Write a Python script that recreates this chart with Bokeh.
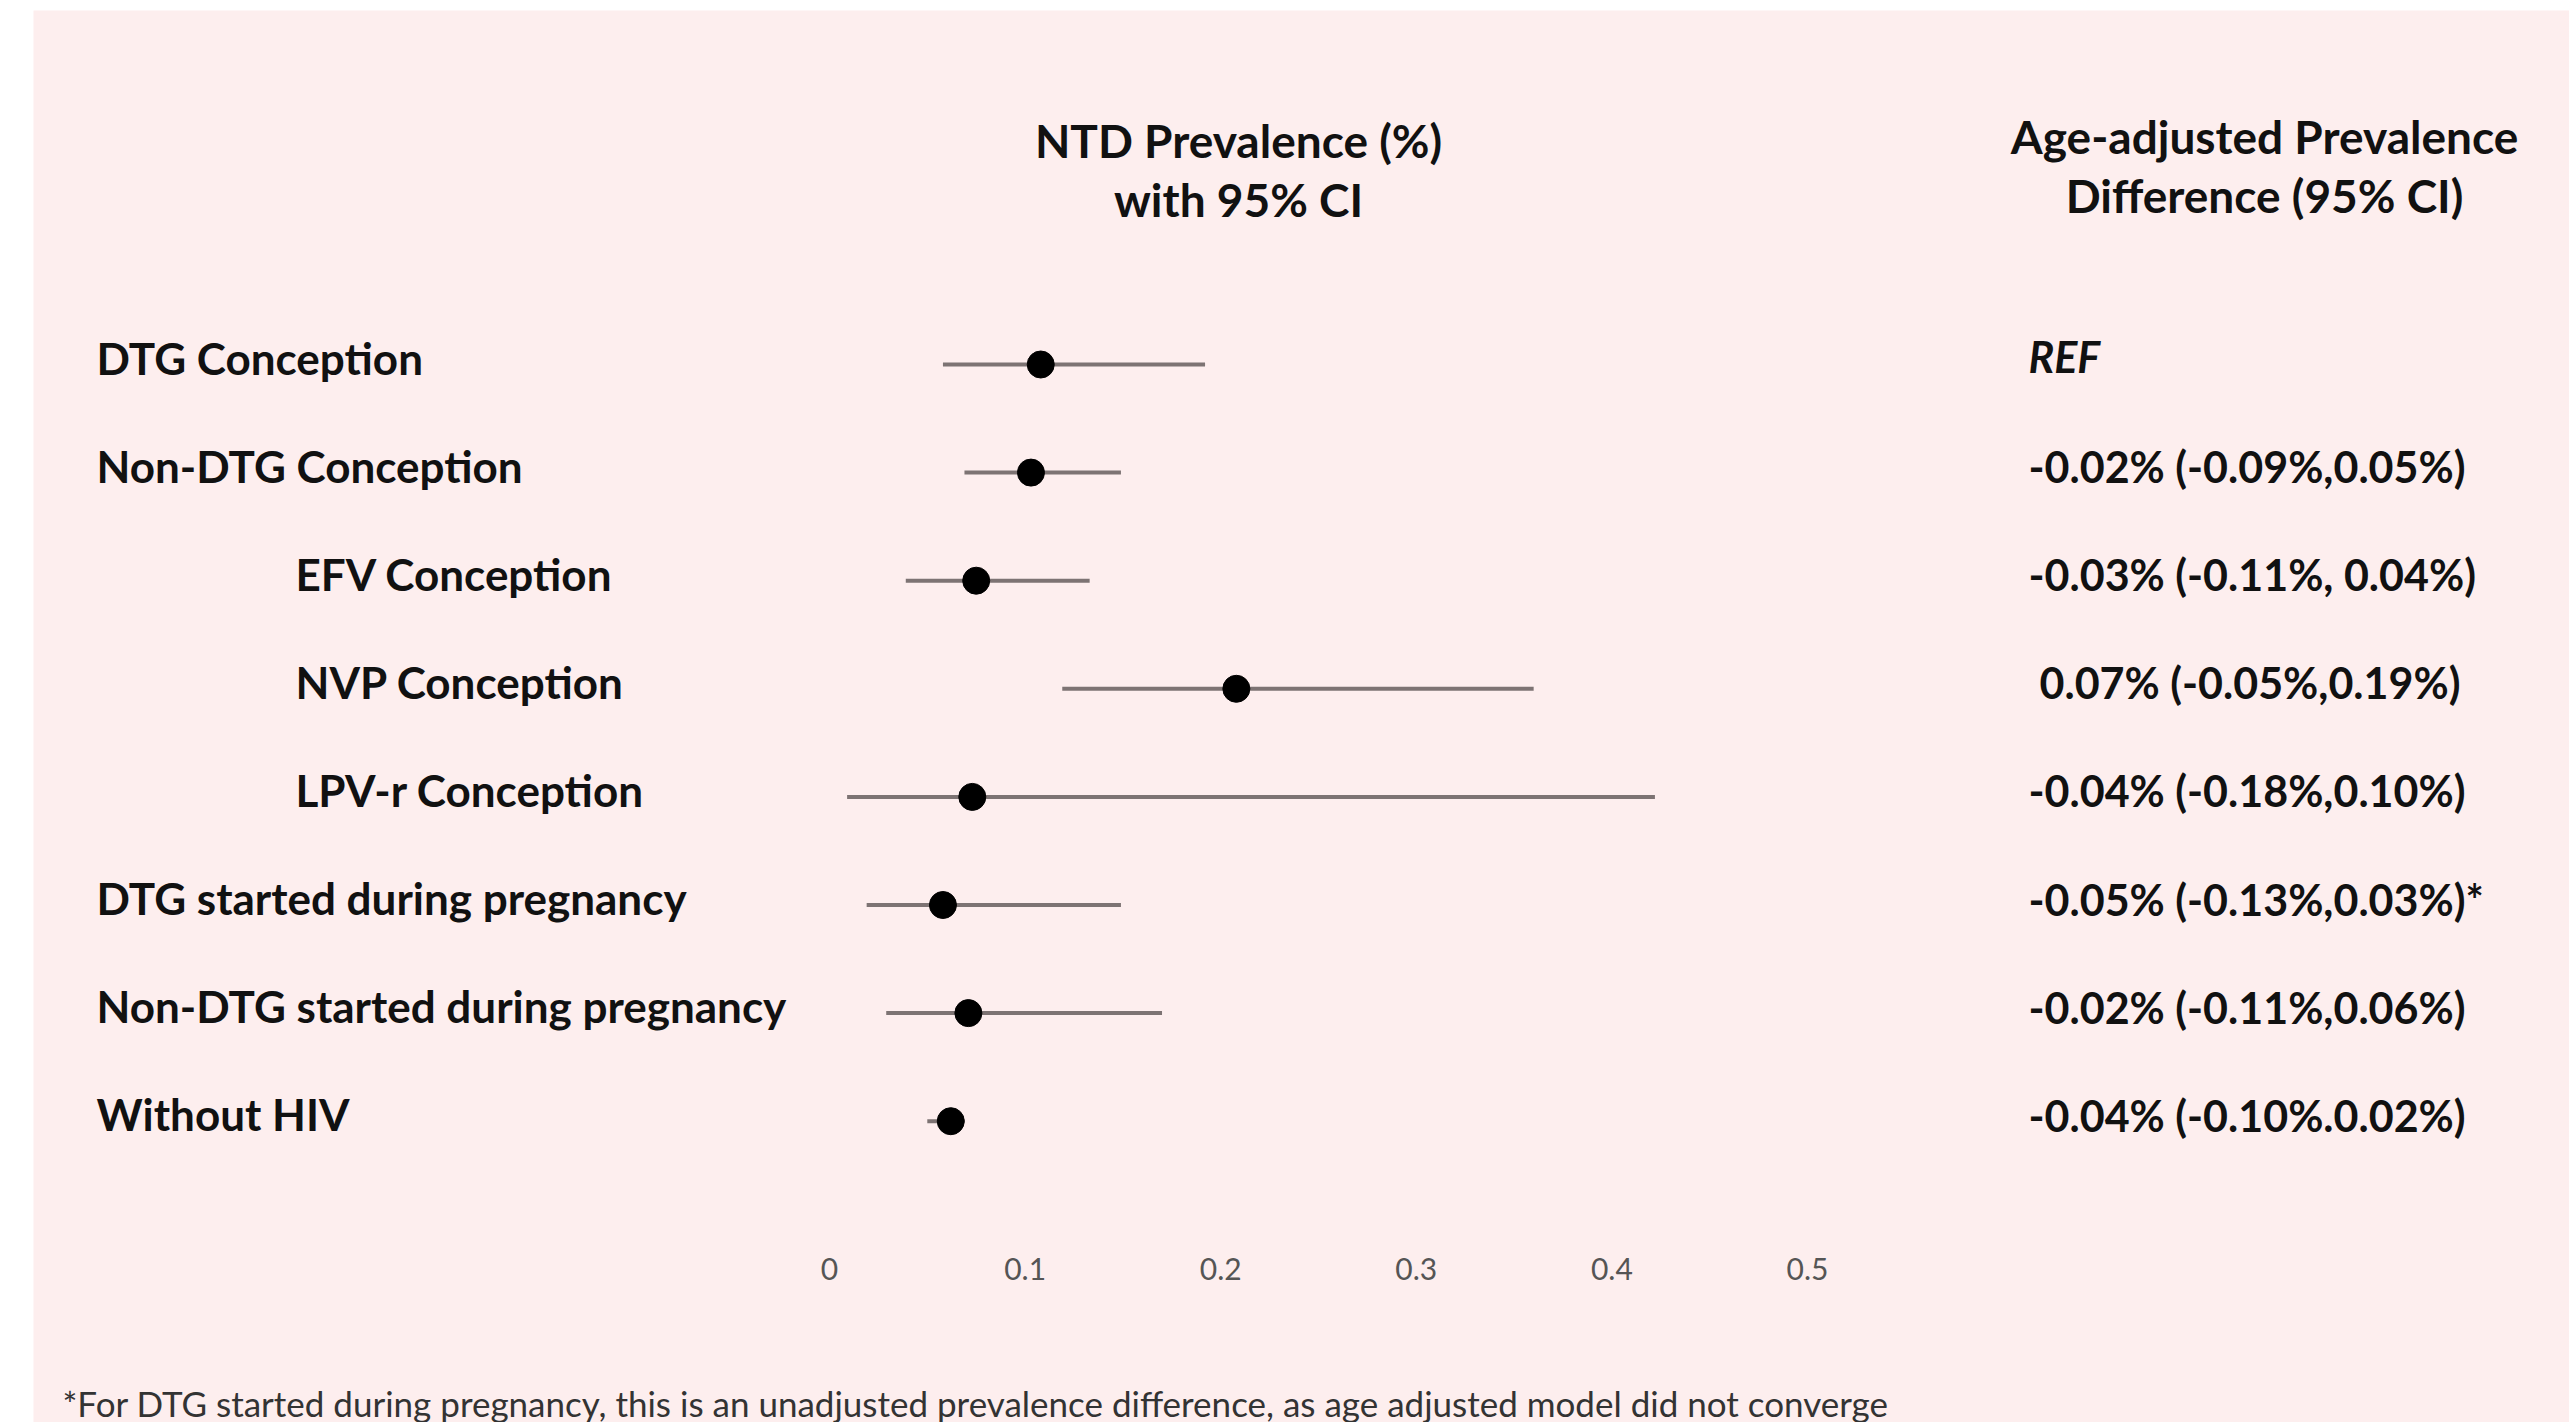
from bokeh.plotting import figure
from bokeh.models import Range1d, BoxAnnotation, ColumnDataSource
from bokeh.core.properties import value
from bokeh.embed import file_html
from bokeh.resources import INLINE

# ---- data ----
row_labels = ["DTG Conception", "Non-DTG Conception", "EFV Conception", "NVP Conception",
              "LPV-r Conception", "DTG started during pregnancy",
              "Non-DTG started during pregnancy", "Without HIV"]
prevalence = [0.108, 0.103, 0.075, 0.208, 0.073, 0.058, 0.071, 0.062]
ci_low = [0.058, 0.069, 0.039, 0.119, 0.009, 0.019, 0.029, 0.050]
ci_high = [0.192, 0.149, 0.133, 0.360, 0.422, 0.149, 0.170, 0.069]
diff_text = ["REF", "-0.02% (-0.09%,0.05%)", "-0.03% (-0.11%, 0.04%)", "0.07% (-0.05%,0.19%)",
             "-0.04% (-0.18%,0.10%)", "-0.05% (-0.13%,0.03%)*", "-0.02% (-0.11%,0.06%)",
             "-0.04% (-0.10%.0.02%)"]
tick_values = [0, 0.1, 0.2, 0.3, 0.4, 0.5]
tick_labels = ["0", "0.1", "0.2", "0.3", "0.4", "0.5"]
indented = {"EFV Conception", "NVP Conception", "LPV-r Conception"}
header_left = ["NTD Prevalence (%)", "with 95% CI"]
header_right = ["Age-adjusted Prevalence", "Difference (95% CI)"]
footnote = ("*For DTG started during pregnancy, this is an unadjusted prevalence difference, "
            "as age adjusted model did not converge")

# ---- layout ----
W, H = 2569, 1422
X0_PX, X_SCALE = 829, 1956.0       # screen px of x=0, px per unit
Y0_PX, Y_STEP = 364, 108.1         # screen px of row 0, px per row

def sx(page_x):
    return (page_x - X0_PX) / X_SCALE

def sy(page_y):
    return (page_y - Y0_PX) / Y_STEP

p = figure(width=W, height=H, output_backend="svg", toolbar_location=None,
           x_range=Range1d(-X0_PX / X_SCALE, (W - X0_PX) / X_SCALE),
           y_range=Range1d((H - Y0_PX) / Y_STEP, -Y0_PX / Y_STEP),
           x_axis_location=None, y_axis_location=None, min_border=0)
p.grid.visible = False
p.outline_line_color = None
p.background_fill_color = "white"
p.border_fill_color = "white"
p.add_layout(BoxAnnotation(left=sx(33), top=sy(10), fill_color="#FDEEEE",
                           fill_alpha=1.0, line_color=None, level="underlay"))

FONT = value("Lato")
rows = list(range(len(row_labels)))

# CI lines and points
src = ColumnDataSource(dict(y=rows, lo=ci_low, hi=ci_high, est=prevalence))
p.segment(x0="lo", x1="hi", y0="y", y1="y", source=src, line_color="#7D7373", line_width=4)
p.scatter(x="est", y="y", source=src, size=27, fill_color="black", line_color="black")

# Row labels
lab_x = [sx(295) if l in indented else sx(96) for l in row_labels]
p.text(x=lab_x, y=rows, text=row_labels, text_font=FONT, text_font_style="bold",
       text_font_size="44px", text_color="#111111", text_baseline="middle",
       text_align="left", y_offset=-7)

# Right column
other = [i for i in rows if diff_text[i] != "REF"]
other_x = [sx(2028) if diff_text[i].startswith("-") else sx(2039) for i in other]
p.text(x=other_x, y=other, text=[diff_text[i] for i in other],
       text_font=FONT, text_font_style="bold", text_font_size="43px",
       text_color="#111111", text_baseline="middle", text_align="left", y_offset=-6)
ref = [i for i in rows if diff_text[i] == "REF"]
p.text(x=[sx(2028)] * len(ref), y=ref, text=[diff_text[i] for i in ref],
       text_font=FONT, text_font_style="bold italic", text_font_size="43px",
       text_color="#111111", text_baseline="middle", text_align="left", y_offset=-8)

# Headers
p.text(x=[sx(1238)] * 2, y=[sy(140), sy(199)], text=header_left, text_font=FONT,
       text_font_style="bold", text_font_size="46px", text_color="#111111",
       text_baseline="middle", text_align="center")
p.text(x=[sx(2264)] * 2, y=[sy(136), sy(195)], text=header_right, text_font=FONT,
       text_font_style="bold", text_font_size="46px", text_color="#111111",
       text_baseline="middle", text_align="center")

# Tick labels
p.text(x=tick_values, y=[sy(1268)] * len(tick_values), text=tick_labels, text_font=FONT,
       text_font_size="30px", text_color="#555555", text_baseline="middle", text_align="center")

# Footnote
p.text(x=[sx(62)], y=[sy(1402)], text=[footnote], text_font=FONT, text_font_size="35px",
       text_color="#333333", text_baseline="alphabetic", text_align="left")

open("out.html", "w").write(file_html(p, INLINE))
